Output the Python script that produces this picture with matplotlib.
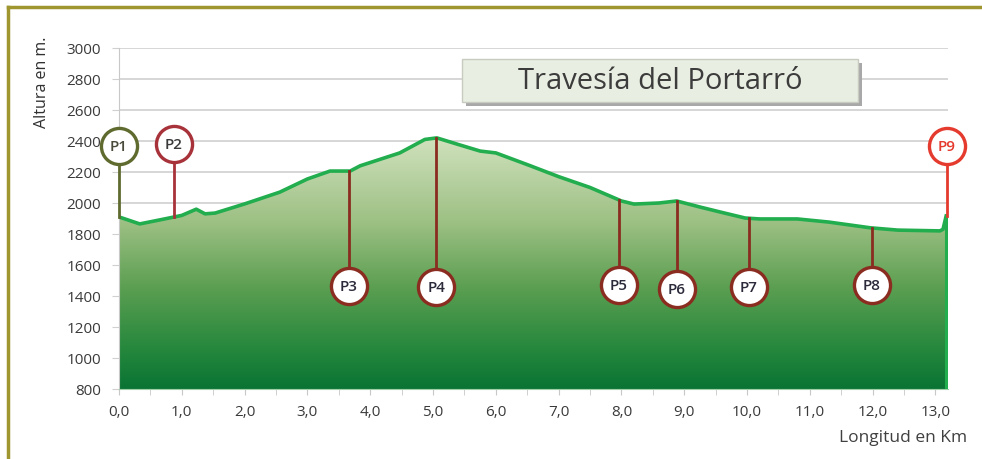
import numpy as np
import matplotlib
matplotlib.use("Agg")
import matplotlib.pyplot as plt
from matplotlib.colors import LinearSegmentedColormap
from matplotlib.patches import Rectangle, Polygon

plt.rcParams['font.family'] = ['Open Sans', 'DejaVu Sans']

# elevation profile (km, m)
dist_km = [0.0, 0.33, 0.7, 1.0, 1.23, 1.37, 1.53, 2.0, 2.56, 3.0, 3.36, 3.68, 3.84,
           4.47, 4.87, 5.06, 5.43, 5.75, 6.0, 6.55, 7.0, 7.5, 8.0, 8.2, 8.6, 8.88,
           9.25, 9.57, 9.97, 10.2, 10.8, 11.3, 11.96, 12.4, 13.07, 13.12, 13.17]
alt_m = [1910, 1865, 1895, 1920, 1960, 1930, 1935, 1994, 2070, 2155, 2206, 2206, 2240,
         2323, 2410, 2420, 2374, 2335, 2323, 2240, 2170, 2100, 2013, 1993, 2000, 2013,
         1974, 1942, 1903, 1897, 1897, 1877, 1840, 1825, 1820, 1830, 1916]

# waypoints
wp_labels = ['P1', 'P2', 'P3', 'P4', 'P5', 'P6', 'P7', 'P8', 'P9']
wp_km = [0.0, 0.87, 3.66, 5.05, 7.96, 8.88, 10.03, 11.99, 13.18]
wp_circle_alt = [2368, 2380, 1465, 1460, 1470, 1445, 1460, 1470, 2368]
wp_colors = ['#5f6b2e', '#a8323a', '#8a2c20', '#8a2c20', '#8a2c20', '#8a2c20',
             '#8a2c20', '#8a2c20', '#e53a2e']
wp_text_colors = ['#4a4a3a', '#3a3a3a', '#2a2a3a', '#2a2a3a', '#2a2a3a', '#2a2a3a',
                  '#2a2a3a', '#2a2a3a', '#e53a2e']

title = 'Travesía del Portarró'

fig = plt.figure(figsize=(9.82, 4.6), dpi=100)
ax = fig.add_axes([0.1212, 0.1522, 0.8442, 0.7413])
ax.set_xlim(0, 13.2)
ax.set_ylim(800, 3000)

# grid
ax.set_yticks(np.arange(800, 3001, 200))
ax.yaxis.grid(True, color='#d0d0d0', lw=1.2, zorder=0)
ax.set_axisbelow(True)

# gradient fill clipped to profile
cmap = LinearSegmentedColormap.from_list('g', [
    (0.0, '#0a7434'), (0.15, '#24873c'), (0.4, '#5c9f52'),
    (0.65, '#9cc083'), (1.0, '#d3e3c0')])
grad = np.linspace(0, 1, 256).reshape(-1, 1)
img = ax.imshow(grad, cmap=cmap, origin='lower', aspect='auto',
                extent=[0, 13.2, 800, 2450], zorder=1)
poly_pts = [(dist_km[0], 800)] + list(zip(dist_km, alt_m)) + [(dist_km[-1], 800)]
clip = Polygon(poly_pts, closed=True, transform=ax.transData, facecolor='none', edgecolor='none')
ax.add_patch(clip)
img.set_clip_path(clip)
ax.plot(dist_km, alt_m, color='#22ad4e', lw=2.6, zorder=3, solid_joinstyle='round')
ax.plot([dist_km[-1], dist_km[-1]], [800, alt_m[-1]], color='#22ad4e', lw=2.2, zorder=3)

# waypoints
for lab, km, ca, c, tc in zip(wp_labels, wp_km, wp_circle_alt, wp_colors, wp_text_colors):
    prof = np.interp(km, dist_km, alt_m)
    ax.plot([km, km], [prof, ca], color=c, lw=2, zorder=4, clip_on=False)
    ax.plot(km, ca, 'o', ms=26, mfc='white', mec=c, mew=2.4, zorder=5, clip_on=False)
    ax.text(km, ca, lab, ha='center', va='center', fontsize=11, color=tc, zorder=6,
            fontweight='semibold', clip_on=False)

# ticks
ax.set_xticks(np.arange(0, 14, 1))
ax.set_xticklabels([f'{v:.1f}'.replace('.', ',') for v in np.arange(0, 14, 1)])
ax.set_xticks(np.arange(0, 13.3, 0.5), minor=True)
ax.tick_params(axis='x', which='both', length=4, color='#c8c8c8', pad=7,
               labelsize=11, labelcolor='#3a3a3a')
ax.tick_params(axis='y', length=5, color='#d0d0d0', pad=8, labelsize=11,
               labelcolor='#3a3a3a')
for s in ['top', 'right']:
    ax.spines[s].set_visible(False)
ax.spines['left'].set_color('#c8c8c8')
ax.spines['bottom'].set_color('#9fd0a8')

# title box with shadow
ax.add_patch(Rectangle((0.419, 0.830), 0.477, 0.126, transform=ax.transAxes,
                       facecolor='#a8a8a8', edgecolor='none', zorder=6))
ax.add_patch(Rectangle((0.414, 0.842), 0.477, 0.126, transform=ax.transAxes,
                       facecolor='#e9eee2', edgecolor='#c8ccc0', lw=1, zorder=7))
ax.text(0.6525, 0.905, title, transform=ax.transAxes, ha='center', va='center',
        fontsize=21, color='#3c3c3c', zorder=8)

# axis labels
fig.text(0.043, 0.82, 'Altura en m.', rotation=90, ha='center', va='center',
         fontsize=11.5, color='#303030')
fig.text(0.92, 0.047, 'Longitud en Km', ha='center', va='center',
         fontsize=12.5, color='#404040')

# outer frame
fig.add_artist(plt.Line2D([0.008, 1.0], [0.982, 0.982], color='#a09630', lw=2.5,
                          transform=fig.transFigure))
fig.add_artist(plt.Line2D([0.008, 0.008], [0.0, 0.982], color='#a09630', lw=2.5,
                          transform=fig.transFigure))

fig.savefig('out.png', dpi=100)
